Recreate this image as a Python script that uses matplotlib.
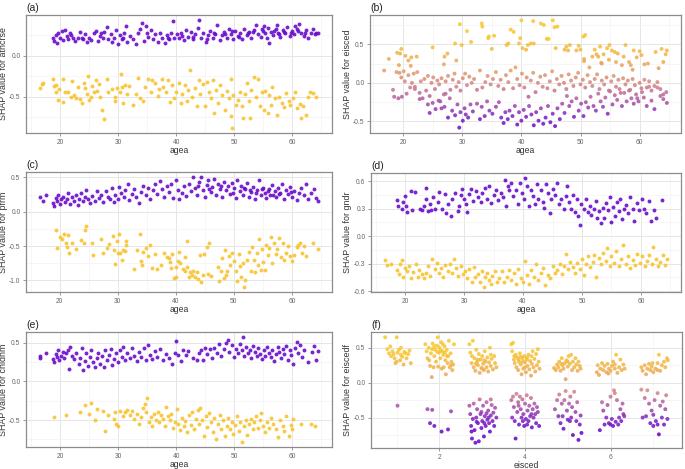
import matplotlib
matplotlib.use("Agg")
import matplotlib.pyplot as plt
import numpy as np
from matplotlib.colors import LinearSegmentedColormap, Normalize
from matplotlib.ticker import FixedLocator, FormatStrFormatter

plt.rcParams['font.family'] = ['Liberation Sans', 'DejaVu Sans']

# ---------------- (a) athcrse ----------------
a_pos_x = [18.7,18.9,19.2,19.4,19.6,19.9,20.3,20.5,20.8,21.1,
21.4,21.7,22.2,22.6,23.0,23.4,23.8,24.2,24.6,25.0,
25.4,25.8,26.2,26.5,26.9,27.3,27.6,28.0,28.3,28.7,
29.0,29.3,29.7,30.0,30.3,30.6,31.0,31.3,31.6,32.0,
32.5,33.0,33.4,33.8,34.2,34.4,34.8,35.2,35.6,36.0,
36.4,36.8,37.2,37.6,38.0,38.4,38.8,39.2,39.5,39.7,
40.1,40.5,40.9,41.3,41.7,42.1,42.5,42.9,43.3,43.7,
44.0,44.3,44.7,45.1,45.5,45.9,46.3,46.7,47.1,47.5,
47.9,48.3,48.7,49.1,49.4,49.8,50.2,50.6,51.0,51.4,
51.8,52.2,52.6,53.0,53.4,53.8,54.2,54.6,55.0,55.4,
55.8,56.1,56.4,56.8,57.2,57.6,58.0,58.4,58.8,59.2,
59.6,60.0,60.4,60.8,61.2,61.6,62.0,62.4,62.8,63.3,
63.7,64.1,64.5,
48.5,49.6,50.9,52.4,53.2,54.9,55.6,56.9,57.8,58.6,
59.9,61.0,62.2,63.9,55.2,57.4,60.6,21.9,24.0,27.0,
30.8,35.0,38.6,41.0,43.0,45.3,46.5]
a_pos_y = [0.22,0.18,0.25,0.15,0.27,0.21,0.30,0.19,0.31,0.24,
0.20,0.27,0.22,0.18,0.21,0.29,0.22,0.26,0.17,0.22,
0.19,0.27,0.30,0.18,0.24,0.21,0.29,0.35,0.20,0.26,
0.17,0.22,0.31,0.14,0.25,0.20,0.28,0.36,0.17,0.24,
0.20,0.14,0.27,0.32,0.40,0.18,0.36,0.23,0.31,0.20,
0.26,0.17,0.27,0.22,0.15,0.25,0.20,0.27,0.42,0.22,
0.26,0.21,0.27,0.19,0.31,0.23,0.29,0.20,0.26,0.34,
0.43,0.21,0.28,0.17,0.25,0.30,0.22,0.26,0.37,0.19,
0.25,0.29,0.22,0.33,0.26,0.20,0.30,0.24,0.28,0.20,
0.33,0.25,0.29,0.22,0.31,0.37,0.26,0.23,0.30,0.27,
0.34,0.15,0.29,0.25,0.33,0.28,0.23,0.31,0.27,0.35,
0.24,0.30,0.26,0.33,0.39,0.28,0.24,0.31,0.21,0.27,
0.33,0.28,0.27,
0.26,0.30,0.23,0.27,0.29,0.33,0.22,0.30,0.26,0.29,
0.27,0.30,0.27,0.26,0.36,0.37,0.36,0.25,0.20,0.27,
0.22,0.28,0.21,0.24,0.23,0.20,0.27]
a_neg_x = [16.5,16.9,17.1,18.7,18.9,19.2,19.3,19.6,19.8,20.4,
20.5,20.8,21.4,21.8,22.1,22.4,22.7,23.1,23.4,23.7,
24.1,24.3,24.6,24.8,25.0,25.3,25.5,25.8,26.2,26.4,
26.7,26.9,27.2,27.5,28.0,28.3,29.0,29.4,29.5,29.8,
30.3,30.5,30.7,30.9,31.1,31.5,31.9,32.5,33.1,33.5,
33.8,34.3,34.6,35.2,35.6,35.9,36.4,36.8,37.1,37.5,
37.8,38.2,38.6,38.9,39.3,39.7,40.0,40.5,40.8,41.1,
41.5,41.8,42.1,42.4,42.8,43.2,43.6,43.9,44.2,44.6,
45.0,45.3,45.6,46.0,46.3,46.6,46.9,47.3,47.6,48.0,
48.4,48.7,49.1,49.4,49.5,49.6,49.9,50.3,50.6,51.0,
51.3,51.6,51.9,52.2,52.5,52.7,53.0,53.4,53.7,54.1,
54.4,54.8,55.1,55.4,55.8,56.0,56.3,56.6,57.0,57.4,
57.8,58.3,58.7,59.0,59.4,59.7,60.1,60.5,60.9,61.3,
61.6,61.9,62.4,62.8,63.1,63.7,64.2]
a_neg_y = [-0.39,-0.35,-0.33,-0.28,-0.37,-0.44,-0.36,-0.54,-0.41,-0.28,
-0.57,-0.45,-0.44,-0.50,-0.31,-0.48,-0.52,-0.38,-0.53,-0.58,
-0.33,-0.40,-0.47,-0.25,-0.54,-0.50,-0.37,-0.45,-0.30,-0.43,
-0.35,-0.50,-0.66,-0.78,-0.29,-0.45,-0.41,-0.51,-0.56,-0.39,
-0.45,-0.22,-0.38,-0.58,-0.36,-0.47,-0.37,-0.60,-0.47,-0.27,
-0.52,-0.56,-0.38,-0.28,-0.45,-0.30,-0.33,-0.49,-0.41,-0.29,
-0.38,-0.45,-0.30,-0.57,-0.36,-0.52,-0.44,-0.33,-0.58,-0.47,
-0.36,-0.55,-0.42,-0.18,-0.50,-0.40,-0.61,-0.30,-0.47,-0.35,
-0.61,-0.32,-0.45,-0.52,-0.30,-0.70,-0.42,-0.58,-0.36,-0.48,
-0.66,-0.43,-0.52,-0.28,-0.74,-0.88,-0.48,-0.60,-0.54,-0.44,
-0.61,-0.76,-0.47,-0.34,-0.55,-0.76,-0.42,-0.26,-0.50,-0.28,
-0.62,-0.45,-0.66,-0.43,-0.70,-0.48,-0.60,-0.38,-0.52,-0.73,
-0.50,-0.58,-0.63,-0.46,-0.55,-0.60,-0.52,-0.45,-0.64,-0.59,
-0.76,-0.62,-0.72,-0.50,-0.44,-0.46,-0.50]

# ---------------- (b) eisced vs agea ----------------
b_top_x = [17.6,19.0,19.3,19.5,19.7,20.4,20.9,21.4,21.3,22.3,
25.0,26.9,27.0,27.5,28.8,29.0,29.6,29.9,30.8,31.5,
33.3,33.4,34.4,34.5,35.0,35.4,37.5,37.8,38.2,38.7,
39.6,39.8,40.0,40.2,40.8,41.1,41.6,42.0,42.1,43.3,
43.8,44.3,44.6,45.3,45.6,45.8,46.1,47.3,47.6,47.9,
48.2,49.3,49.7,50.0,50.5,50.8,50.6,50.6,51.5,52.0,
52.4,52.7,53.0,53.3,53.5,53.6,53.9,54.5,54.8,54.9,
55.3,55.8,56.0,56.3,57.0,57.3,57.6,58.2,58.5,58.8,
59.0,59.5,60.0,60.3,60.8,61.4,62.7,63.2,63.7,64.0,
64.4,64.6]
b_top_y = [0.31,0.39,0.23,0.38,0.44,0.35,0.29,0.33,0.22,0.34,
0.46,0.24,0.34,0.38,0.51,0.29,0.76,0.49,0.67,0.53,
0.77,0.73,0.58,0.60,0.44,0.61,0.49,0.51,0.69,0.66,
0.51,0.58,0.81,0.45,0.43,0.49,0.51,0.80,0.51,0.77,
0.75,0.57,0.57,0.81,0.72,0.45,0.73,0.43,0.47,0.42,
0.49,0.42,0.48,0.43,0.60,0.62,0.31,0.28,0.20,0.34,
0.43,0.37,0.34,0.47,0.26,0.25,0.37,0.45,0.30,0.49,
0.42,0.40,0.27,0.38,0.23,0.34,0.49,0.27,0.23,0.17,
0.42,0.33,0.41,0.36,0.24,0.25,0.40,0.19,0.44,0.27,
0.37,0.42]
b_mid_x = [16.8,18.3,18.5,18.9,19.2,19.4,19.7,19.8,20.1,20.3,
20.6,20.9,21.2,21.5,21.8,22.0,22.4,22.8,23.0,23.3,
23.6,23.9,24.2,24.5,24.8,25.1,25.4,25.8,26.1,26.5,
26.9,27.2,27.6,28.0,28.4,28.7,29.0,29.4,29.7,30.1,
30.5,30.8,31.2,31.6,32.0,32.5,33.0,33.4,33.9,34.3,
34.8,35.2,35.7,36.1,36.5,37.0,37.4,37.8,38.2,38.6,
39.0,39.3,39.7,40.1,40.5,40.9,41.2,41.6,42.0,42.4,
42.8,43.2,43.6,44.0,44.4,44.8,45.2,45.6,46.0,46.4,
46.8,47.2,47.6,48.0,48.4,48.8,49.2,49.6,50.0,50.4,
50.8,51.2,51.6,52.0,52.4,52.8,53.2,53.6,54.0,54.4,
54.8,55.2,55.6,56.0,56.4,56.8,57.2,57.6,58.0,58.4,
58.8,59.2,59.6,60.0,60.4,60.8,61.2,61.6,62.0,62.5,
63.0,63.5,64.0,64.5]
b_mid_y = [0.16,-0.09,-0.18,0.14,-0.20,0.13,0.07,-0.18,0.15,0.02,
-0.14,0.10,-0.06,0.00,0.12,-0.05,0.14,-0.13,0.02,-0.20,
0.05,-0.10,0.09,-0.17,0.00,0.07,-0.08,0.03,-0.02,0.06,
-0.15,0.02,0.09,-0.09,0.04,0.12,-0.05,0.01,-0.10,0.06,
0.12,-0.03,0.08,0.00,0.05,-0.09,0.16,-0.06,0.01,0.09,
-0.02,0.05,0.14,-0.04,0.04,-0.08,0.10,0.01,0.16,-0.07,
0.20,0.05,-0.03,0.12,-0.06,0.07,-0.18,0.03,0.13,-0.12,
0.00,0.08,-0.05,0.10,-0.07,0.02,0.15,-0.10,0.05,-0.02,
0.09,0.00,-0.08,0.11,0.03,-0.04,0.07,0.13,-0.02,0.04,
-0.06,0.10,0.01,-0.04,0.05,0.11,-0.08,0.03,-0.02,0.07,
-0.10,0.02,0.09,-0.05,0.04,-0.13,0.06,-0.02,0.03,-0.09,
0.05,-0.03,-0.20,0.00,-0.12,0.04,-0.06,0.02,-0.10,-0.04,
0.01,-0.08,-0.15,-0.12]
b_low_x = [22.0,22.8,24.2,24.5,25.0,25.5,26.0,26.3,26.5,27.0,
27.2,27.6,27.9,28.3,28.8,29.2,29.5,29.7,30.1,30.4,
30.6,31.0,31.4,31.8,32.5,33.0,33.3,33.8,34.2,34.6,
35.1,35.7,36.2,36.6,37.0,37.3,37.7,38.0,38.5,38.9,
39.3,39.6,40.0,40.4,40.8,41.3,41.7,42.1,42.5,42.9,
43.3,43.7,44.1,44.5,44.9,45.3,45.7,46.1,46.5,46.9,
47.3,47.7,48.1,48.5,48.9,49.3,49.7,50.1,50.5,50.9,
51.3,51.7,52.2,52.6,53.0,53.4,53.8,54.2,54.6,55.0,
55.4,55.8,56.2,56.6,57.0,57.4,57.8,58.2,58.6,59.0,
59.4,59.8,60.3,60.7,61.2,61.6,62.0,62.5,63.0,63.5,
64.0,64.6]
b_low_y = [-0.08,-0.21,-0.28,-0.39,-0.26,-0.34,-0.23,-0.24,-0.33,-0.31,
-0.14,-0.45,-0.20,-0.36,-0.42,-0.28,-0.58,-0.38,-0.49,-0.33,
-0.41,-0.45,-0.28,-0.37,-0.27,-0.47,-0.31,-0.43,-0.24,-0.36,
-0.40,-0.31,-0.25,-0.45,-0.52,-0.38,-0.47,-0.36,-0.43,-0.30,
-0.54,-0.38,-0.49,-0.35,-0.44,-0.30,-0.41,-0.55,-0.38,-0.49,
-0.33,-0.53,-0.45,-0.30,-0.51,-0.40,-0.56,-0.33,-0.47,-0.27,
-0.39,-0.17,-0.30,-0.24,-0.44,-0.20,-0.36,-0.27,-0.43,-0.25,
-0.32,-0.18,-0.30,-0.36,-0.14,-0.24,-0.31,-0.19,-0.40,-0.11,
-0.28,-0.16,-0.22,-0.08,-0.30,-0.13,-0.24,-0.10,-0.20,-0.27,
-0.15,-0.24,-0.07,-0.19,-0.30,-0.05,-0.23,-0.34,-0.06,-0.17,
-0.21,-0.26]

# ---------------- (c) pfrm ----------------
c_pos_x = [16.6,17.1,17.6,18.9,19.1,19.3,19.5,19.8,20.0,20.3,
20.6,20.9,21.2,21.5,21.8,22.1,22.4,22.8,23.1,23.4,
23.7,24.0,24.3,24.6,24.9,25.2,25.6,26.0,26.4,26.8,
27.1,27.5,27.9,28.3,28.6,29.0,29.3,29.6,30.0,30.3,
30.6,31.0,31.3,31.7,32.0,32.4,32.8,33.2,33.6,34.0,
34.4,34.8,35.2,35.6,36.0,36.4,36.8,37.2,37.6,38.0,
38.4,38.8,39.2,39.6,40.0,40.3,40.6,41.0,41.4,41.8,
42.2,42.6,43.0,43.3,43.6,44.0,44.3,44.6,45.0,45.3,
45.6,46.0,46.3,46.6,47.0,47.3,47.6,48.0,48.3,48.6,
49.0,49.3,49.6,50.0,50.3,50.6,51.0,51.3,51.6,52.0,
52.3,52.6,53.0,53.3,53.6,54.0,54.3,54.6,55.0,55.3,
55.6,56.0,56.3,56.6,57.0,57.3,57.6,58.0,58.3,58.6,
59.0,59.3,59.6,60.0,60.4,60.8,61.2,61.6,62.0,62.4,
62.8,63.3,63.8,64.2,64.5,43.8,45.8,47.8,49.8,51.8,
53.8,55.8,57.8,59.8,52.8,54.8,56.8]
c_pos_y = [0.21,0.16,0.25,0.13,0.09,0.20,0.16,0.24,0.11,0.19,
0.22,0.14,0.18,0.27,0.12,0.21,0.16,0.24,0.10,0.19,
0.28,0.15,0.21,0.32,0.18,0.13,0.23,0.16,0.30,0.20,
0.25,0.14,0.30,0.22,0.18,0.34,0.14,0.25,0.19,0.36,
0.28,0.22,0.32,0.41,0.17,0.26,0.33,0.21,0.13,0.29,
0.38,0.24,0.35,0.19,0.31,0.40,0.26,0.45,0.33,0.22,
0.37,0.29,0.41,0.20,0.46,0.31,0.18,0.27,0.37,0.23,
0.40,0.30,0.50,0.35,0.25,0.43,0.50,0.32,0.22,0.39,
0.46,0.29,0.36,0.48,0.25,0.41,0.33,0.22,0.44,0.31,
0.38,0.26,0.42,0.34,0.20,0.47,0.30,0.37,0.25,0.33,
0.42,0.21,0.29,0.36,0.18,0.31,0.46,0.24,0.35,0.28,
0.20,0.33,0.25,0.39,0.30,0.22,0.34,0.27,0.40,0.19,
0.32,0.26,0.36,0.22,0.30,0.17,0.27,0.34,0.24,0.41,
0.19,0.28,0.33,0.20,0.16,0.37,0.33,0.37,0.28,0.35,
0.27,0.30,0.26,0.29,0.31,0.33,0.24]
c_neg_x = [19.4,19.5,20.0,20.4,20.8,21.1,21.3,21.5,21.6,22.2,
22.8,23.6,24.2,24.4,24.6,25.6,25.7,27.2,27.4,28.2,
28.5,29.1,29.4,29.6,29.8,30.0,30.2,30.4,30.7,30.9,
31.2,31.4,31.5,32.8,33.3,33.8,34.0,34.2,34.3,34.8,
35.2,35.5,35.9,36.4,36.7,37.4,37.9,38.4,38.8,39.0,
39.2,39.4,39.7,40.0,40.1,40.3,40.5,40.8,41.2,41.5,
41.6,41.9,42.0,42.3,42.5,42.8,43.0,43.3,43.6,43.8,
44.1,44.4,44.6,44.9,45.3,45.6,45.8,46.0,47.2,47.5,
47.8,48.0,48.3,48.4,48.6,48.9,49.2,49.4,49.7,50.0,
50.3,50.6,50.8,51.0,51.3,51.6,51.8,52.0,52.3,52.6,
52.9,53.2,53.4,53.6,53.9,54.2,54.4,54.6,54.9,55.1,
55.4,55.6,55.9,56.1,56.4,56.6,56.9,57.2,57.5,57.8,
58.1,58.4,58.7,59.0,59.3,59.7,60.0,60.4,60.8,61.1,
61.4,61.7,62.1,62.5,63.6,64.4]
c_neg_y = [-0.26,-0.53,-0.37,-0.40,-0.32,-0.45,-0.51,-0.34,-0.60,-0.45,
-0.55,-0.41,-0.46,-0.27,-0.21,-0.46,-0.63,-0.39,-0.60,-0.53,
-0.47,-0.36,-0.56,-0.76,-0.42,-0.60,-0.32,-0.60,-0.70,-0.56,
-0.57,-0.49,-0.43,-0.83,-0.56,-0.33,-0.72,-0.78,-0.58,-0.53,
-0.65,-0.49,-0.82,-0.61,-0.84,-0.78,-0.60,-0.66,-0.68,-0.73,
-0.82,-0.61,-0.96,-0.95,-0.80,-0.72,-0.59,-0.75,-0.84,-0.87,
-0.66,-0.42,-0.80,-0.95,-0.88,-0.92,-0.87,-0.95,-0.88,-0.98,
-0.63,-1.02,-0.92,-0.61,-0.51,-0.90,-0.45,-0.93,-0.81,-1.01,
-0.86,-0.68,-0.96,-0.56,-0.92,-0.86,-0.64,-0.78,-0.60,-0.72,
-0.87,-1.01,-0.62,-0.79,-0.95,-0.74,-1.09,-0.99,-0.70,-0.58,
-0.86,-0.52,-0.71,-0.88,-0.60,-0.77,-0.40,-0.85,-0.55,-0.73,
-0.85,-0.48,-0.63,-0.53,-0.37,-0.75,-0.45,-0.61,-0.55,-0.38,
-0.66,-0.46,-0.70,-0.60,-0.50,-0.65,-0.72,-0.63,-0.52,-0.48,
-0.45,-0.60,-0.50,-0.65,-0.46,-0.55]

# ---------------- (d) gndr ----------------
d_pos_x = [18.6,18.8,19.4,19.6,20.0,20.2,20.4,21.0,21.2,21.6,
22.5,22.8,23.2,23.5,23.6,23.8,24.2,24.4,24.7,25.0,
25.5,25.8,26.2,26.7,27.0,27.3,27.7,28.0,28.4,28.9,
29.1,29.4,29.7,30.0,30.3,30.5,30.8,31.2,31.5,32.0,
32.4,32.8,33.1,33.5,33.9,34.3,34.6,35.0,35.4,35.8,
36.2,36.6,36.9,37.1,37.4,37.7,38.0,38.3,38.8,39.2,
39.5,39.8,40.1,40.4,40.6,41.0,41.3,41.7,42.0,42.3,
42.6,43.0,43.3,43.6,43.9,44.2,44.5,44.8,45.1,45.5,
45.8,46.1,46.5,46.9,47.2,47.5,47.8,48.1,48.4,48.8,
49.1,49.4,49.6,49.9,50.3,50.6,51.0,51.3,51.6,52.0,
52.3,52.6,52.9,53.2,53.5,53.8,54.1,54.4,54.7,55.0,
55.3,55.6,55.9,56.2,56.5,56.8,57.1,57.5,57.8,58.2,
58.6,58.9,59.3,59.7,60.1,60.5,60.9,61.3,61.7,62.2,
62.6,63.5]
d_pos_y = [0.39,0.33,0.30,0.37,0.44,0.33,0.26,0.49,0.28,0.48,
0.30,0.29,0.33,0.41,0.52,0.27,0.35,0.29,0.43,0.30,
0.37,0.48,0.30,0.46,0.25,0.35,0.22,0.40,0.47,0.27,
0.33,0.45,0.51,0.41,0.35,0.26,0.46,0.51,0.38,0.49,
0.43,0.37,0.47,0.52,0.41,0.55,0.36,0.45,0.50,0.39,
0.47,0.43,0.61,0.33,0.55,0.50,0.58,0.44,0.50,0.35,
0.58,0.47,0.40,0.63,0.55,0.33,0.50,0.44,0.35,0.57,
0.40,0.50,0.37,0.31,0.57,0.47,0.25,0.40,0.51,0.45,
0.58,0.35,0.40,0.30,0.44,0.55,0.37,0.30,0.45,0.26,
0.41,0.22,0.12,0.35,0.30,0.40,0.26,0.33,0.23,0.30,
0.38,0.20,0.27,0.14,0.31,0.20,0.36,0.28,0.43,0.15,
0.32,0.22,0.37,0.27,0.41,0.19,0.30,0.34,0.25,0.43,
0.30,0.17,0.36,0.28,0.41,0.30,0.25,0.38,0.17,0.29,
0.20,0.39]
d_neg_x = [16.6,17.0,17.6,18.6,18.9,19.2,19.4,19.7,20.0,20.3,
20.6,21.0,21.4,21.8,22.1,22.4,22.8,23.2,23.5,23.9,
24.3,24.6,25.0,25.4,25.8,26.1,26.5,26.8,27.2,27.6,
28.0,28.3,28.7,29.0,29.4,29.8,30.2,30.5,30.9,31.3,
31.6,31.9,32.3,32.7,33.0,33.3,33.6,33.9,34.2,34.5,
34.8,35.2,35.6,36.0,36.4,36.8,37.2,37.6,38.0,38.4,
38.8,39.2,39.6,40.0,40.3,40.6,41.0,41.4,41.8,42.2,
42.6,43.0,43.4,43.8,44.2,44.6,45.0,45.4,45.8,46.2,
46.6,47.0,47.3,47.6,48.0,48.4,48.8,49.2,49.6,50.0,
50.3,50.7,51.0,51.4,51.8,52.1,52.4,52.8,53.2,53.6,
54.0,54.3,54.7,55.0,55.4,55.8,56.2,56.6,57.0,57.4,
57.8,58.2,58.6,59.0,59.4,59.8,60.2,60.6,61.0,61.4,
61.8,62.1,62.5,62.9,63.3,63.7,64.1,64.4]
d_neg_y = [-0.26,-0.31,-0.30,-0.37,-0.41,-0.30,-0.26,-0.44,-0.35,-0.38,
-0.32,-0.46,-0.39,-0.30,-0.44,-0.37,-0.41,-0.46,-0.40,-0.33,
-0.43,-0.25,-0.36,-0.29,-0.40,-0.35,-0.44,-0.31,-0.38,-0.30,
-0.40,-0.25,-0.35,-0.43,-0.33,-0.41,-0.38,-0.46,-0.36,-0.50,
-0.34,-0.44,-0.41,-0.50,-0.38,-0.55,-0.45,-0.40,-0.48,-0.52,
-0.43,-0.38,-0.50,-0.46,-0.38,-0.50,-0.44,-0.37,-0.48,-0.40,
-0.52,-0.36,-0.46,-0.50,-0.27,-0.42,-0.52,-0.37,-0.45,-0.30,
-0.48,-0.40,-0.35,-0.53,-0.42,-0.46,-0.33,-0.40,-0.37,-0.30,
-0.41,-0.32,-0.19,-0.36,-0.28,-0.34,-0.40,-0.29,-0.36,-0.25,
-0.42,-0.30,-0.22,-0.34,-0.28,-0.20,-0.44,-0.24,-0.30,-0.18,
-0.27,-0.13,-0.33,-0.22,-0.29,-0.16,-0.32,-0.25,-0.10,-0.30,
-0.22,-0.35,-0.26,-0.31,-0.19,-0.29,-0.22,-0.33,-0.27,-0.20,
-0.30,-0.12,-0.25,-0.33,-0.28,-0.21,-0.31,-0.25]

# ---------------- (e) chldhm ----------------
e_pos_x = [16.5,16.6,17.5,18.7,19.0,19.2,19.4,19.6,19.8,20.1,
20.4,20.7,21.0,21.3,21.5,21.7,22.0,22.4,22.8,23.2,
23.5,23.7,23.9,24.2,24.5,24.8,25.1,25.4,25.7,26.0,
26.3,26.6,26.9,27.2,27.5,27.8,28.1,28.4,28.7,29.0,
29.3,29.6,30.0,30.3,30.6,30.9,31.2,31.6,32.0,32.4,
32.8,33.2,33.6,34.0,34.4,34.8,35.1,35.5,35.9,36.3,
36.7,37.2,37.7,38.2,38.8,39.3,39.8,40.0,40.4,40.8,
41.2,41.7,42.0,43.0,43.6,44.0,44.3,44.6,45.0,45.4,
45.8,46.2,46.6,47.0,47.4,47.8,48.2,48.6,48.9,49.2,
49.6,50.0,50.3,50.6,51.0,51.3,51.5,51.8,52.1,52.4,
52.7,53.0,53.3,53.6,53.9,54.2,54.5,54.8,55.1,55.4,
55.7,56.0,56.3,56.6,56.9,57.2,57.5,57.8,58.1,58.4,
58.7,59.0,59.3,59.6,59.9,60.2,60.5,60.8,61.1,61.4,
61.7,62.0,62.8,63.4,63.8,64.1,64.5]
e_pos_y = [0.30,0.33,0.37,0.29,0.25,0.35,0.31,0.40,0.27,0.33,
0.38,0.30,0.36,0.41,0.16,0.45,0.33,0.29,0.37,0.23,
0.30,0.43,0.15,0.26,0.37,0.20,0.32,0.41,0.25,0.18,
0.30,0.37,0.22,0.33,0.18,0.40,0.27,0.34,0.42,0.21,
0.29,0.36,0.25,0.41,0.32,0.45,0.28,0.37,0.30,0.43,
0.33,0.26,0.38,0.31,0.43,0.27,0.47,0.34,0.29,0.39,
0.31,0.42,0.27,0.35,0.30,0.23,0.37,0.52,0.34,0.26,
0.40,0.34,0.39,0.30,0.28,0.36,0.40,0.27,0.43,0.35,
0.42,0.30,0.43,0.36,0.48,0.33,0.42,0.50,0.54,0.38,
0.47,0.31,0.42,0.36,0.48,0.40,0.57,0.33,0.44,0.37,
0.41,0.30,0.46,0.38,0.33,0.43,0.35,0.29,0.40,0.33,
0.45,0.37,0.31,0.41,0.26,0.35,0.44,0.38,0.30,0.42,
0.35,0.46,0.28,0.40,0.34,0.23,0.43,0.51,0.36,0.47,
0.32,0.41,0.25,0.38,0.46,0.27,0.39]
e_neg_x = [19.0,21.0,23.5,24.2,24.9,25.3,26.0,26.4,27.4,27.7,
28.2,29.2,29.4,29.6,30.0,30.4,30.8,31.2,31.6,32.0,
32.4,32.8,33.2,33.6,34.0,34.3,34.6,34.8,35.0,35.3,
35.6,35.9,36.2,36.5,36.8,37.1,37.4,37.7,38.0,38.3,
38.6,38.9,39.2,39.5,39.8,40.1,40.4,40.7,41.0,41.3,
41.6,41.9,42.2,42.5,42.8,43.1,43.4,43.7,44.0,44.2,
44.5,44.8,45.1,45.4,45.7,46.0,46.3,46.6,46.9,47.2,
47.5,47.8,48.1,48.4,48.7,49.0,49.3,49.6,49.9,50.2,
50.5,50.8,51.1,51.4,51.7,52.0,52.3,52.6,52.9,53.2,
53.5,53.8,54.1,54.4,54.7,55.0,55.3,55.6,56.0,56.4,
56.8,57.2,57.6,58.0,58.4,58.7,59.0,59.4,59.8,60.2,
61.5,63.3,64.0,60.0]
e_neg_y = [-0.46,-0.44,-0.39,-0.30,-0.42,-0.28,-0.50,-0.36,-0.38,-0.64,
-0.43,-0.49,-0.40,-0.55,-0.58,-0.38,-0.45,-0.40,-0.37,-0.43,
-0.38,-0.48,-0.42,-0.55,-0.46,-0.35,-0.29,-0.40,-0.22,-0.52,
-0.46,-0.58,-0.42,-0.50,-0.40,-0.53,-0.44,-0.48,-0.57,-0.33,
-0.45,-0.50,-0.42,-0.60,-0.52,-0.36,-0.55,-0.63,-0.47,-0.58,
-0.51,-0.66,-0.44,-0.56,-0.40,-0.62,-0.48,-0.37,-0.55,-0.35,
-0.50,-0.70,-0.45,-0.59,-0.41,-0.52,-0.66,-0.47,-0.75,-0.55,
-0.44,-0.62,-0.50,-0.70,-0.57,-0.47,-0.62,-0.53,-0.68,-0.56,
-0.45,-0.64,-0.52,-0.78,-0.58,-0.50,-0.69,-0.55,-0.48,-0.62,
-0.53,-0.45,-0.60,-0.50,-0.41,-0.57,-0.66,-0.52,-0.60,-0.47,
-0.55,-0.62,-0.72,-0.50,-0.58,-0.64,-0.45,-0.71,-0.56,-0.48,
-0.55,-0.55,-0.57,-0.61]

# ---------------- (f) eiscedf vs eisced ----------------
f_top_x = [0.73,0.78,0.82,0.87,0.90,0.95,0.97,1.00,1.02,1.05,
1.08,1.10,1.13,1.16,1.20,1.23,1.27,1.30,1.33,0.85,
0.93,1.00,1.18,1.10,
1.67,1.70,1.72,1.75,1.78,1.80,1.82,1.84,1.86,1.88,
1.90,1.92,1.94,1.96,1.97,1.99,2.00,2.02,2.04,2.05,
2.07,2.09,2.10,2.12,2.14,2.15,2.17,2.19,2.20,2.22,
2.24,2.26,2.28,2.30,2.32,2.34,1.88,1.95,2.03,2.08,
2.13,1.76,1.83,2.18,2.27,
2.70,2.72,2.75,2.78,2.80,2.82,2.84,2.86,2.88,2.90,
2.92,2.94,2.96,2.98,3.00,3.02,3.04,3.06,3.08,3.10,
3.12,3.14,3.16,3.18,3.20,3.22,3.25,3.28,3.30,3.33,
2.76,2.90,3.05,3.20,2.85,3.00,
3.68,3.70,3.72,3.74,3.76,3.78,3.80,3.82,3.84,3.86,
3.88,3.90,3.92,3.94,3.96,3.98,4.00,4.02,4.04,4.06,
4.08,4.10,4.12,4.14,4.16,4.18,4.20,4.22,4.24,4.26,
4.28,4.30,4.32,4.34,3.75,3.85,3.95,4.05,4.15,3.90,
4.00,
4.68,4.72,4.75,4.78,4.80,4.83,4.86,4.88,4.90,4.93,
4.95,4.97,5.00,5.02,5.05,5.08,5.10,5.12,5.15,5.18,
5.20,5.23,5.25,5.28,5.30,4.85,5.00,
5.68,5.70,5.73,5.76,5.80,5.83,5.86,5.90,5.93,5.96,
6.00,6.03,6.06,6.10,6.13,6.16,6.20,6.23,6.26,6.30,
6.33,6.10,5.95,
6.72,6.75,6.80,6.83,6.86,6.90,6.93,6.96,7.00,7.05,
7.10,7.13,7.16,7.20,7.25,7.28,7.32,7.34,7.10,6.98]
f_top_y = [0.65,0.48,0.42,0.38,0.45,0.35,0.28,0.65,0.43,0.47,
0.32,0.40,0.37,0.26,0.42,0.35,0.41,0.46,0.28,0.52,
0.41,0.30,0.44,0.50,
0.55,0.45,0.35,0.50,0.24,0.42,0.08,0.56,0.22,0.38,
0.47,0.30,0.53,0.65,0.23,0.43,0.50,0.35,0.58,0.20,
0.45,0.40,0.22,0.52,0.32,0.12,0.47,0.28,0.38,0.60,
0.22,0.42,0.30,0.18,0.26,0.55,0.52,0.44,0.46,0.55,
0.43,0.32,0.48,0.38,0.25,
0.55,0.43,0.28,0.60,0.22,0.35,0.17,0.47,0.30,0.25,
0.41,0.14,0.33,0.21,0.38,0.27,0.18,0.45,0.30,0.22,
0.36,0.16,0.29,0.50,0.24,0.34,0.19,0.38,0.28,0.22,
0.38,0.33,0.32,0.40,0.27,0.20,
0.55,0.45,0.57,0.33,0.28,0.40,0.22,0.36,0.18,0.30,
0.42,0.26,0.12,0.35,0.20,0.38,0.29,0.15,0.33,0.24,
0.40,0.19,0.31,0.10,0.27,0.45,0.22,0.34,0.16,0.41,
0.25,0.48,0.30,0.20,0.38,0.33,0.30,0.36,0.38,0.37,
0.22,
0.21,0.18,0.26,0.22,0.30,0.17,0.35,0.25,0.20,0.28,
0.05,0.32,0.23,0.38,0.27,0.40,0.18,0.30,0.22,0.35,
0.26,0.17,0.30,0.24,0.20,0.27,0.30,
0.15,0.25,0.11,0.20,0.28,0.18,0.24,0.15,0.27,0.20,
0.17,0.24,0.30,0.20,0.40,0.14,0.22,0.33,0.18,0.26,
0.20,0.26,0.13,
0.22,0.17,0.25,0.12,0.20,0.27,0.18,0.23,0.15,0.20,
0.28,0.40,0.17,0.25,0.30,0.22,0.35,0.32,0.18,0.28]
f_bot_x = [1.02,
1.72,1.78,1.83,1.88,2.05,2.20,2.27,
2.70,2.72,2.74,2.76,2.78,2.80,2.82,2.84,2.86,2.88,
2.90,2.92,2.94,2.96,2.98,3.00,3.02,3.04,3.06,3.08,
3.10,3.12,3.14,3.16,3.18,3.20,3.22,3.24,3.26,3.28,
3.30,3.33,2.98,3.05,3.15,2.87,3.10,3.20,2.75,
3.68,3.70,3.72,3.74,3.76,3.78,3.80,3.82,3.84,3.86,
3.88,3.90,3.92,3.94,3.96,3.98,4.00,4.02,4.04,4.06,
4.08,4.10,4.12,4.14,4.16,4.18,4.20,4.22,4.24,4.26,
4.28,4.30,4.33,3.95,4.05,4.15,3.85,
4.70,4.75,4.78,4.80,4.83,4.86,4.90,4.92,4.95,4.98,
5.00,5.03,5.06,5.08,5.10,5.12,5.15,5.18,5.20,5.22,
5.25,5.28,5.30,5.32,4.88,5.05,
5.75,5.80,5.83,5.86,5.90,5.93,5.96,6.00,6.03,6.06,
6.10,6.12,6.15,6.18,6.20,6.23,6.25,6.28,6.30,6.32,
6.00,6.08,
6.72,6.75,6.80,6.83,6.86,6.90,6.93,6.96,7.00,7.03,
7.06,7.10,7.13,7.16,7.20,7.22,7.25,7.28,7.30,7.33,
7.00,7.10]
f_bot_y = [-0.33,
-0.38,-0.58,-0.39,-0.62,-0.70,-0.67,-0.41,
-0.33,-0.45,-0.62,-0.80,-0.52,-0.30,-0.68,-0.86,-0.50,-0.38,
-0.58,-0.84,-0.24,-0.45,-0.65,-0.55,-0.33,-0.77,-0.48,-0.62,
-0.28,-0.53,-0.40,-0.58,-0.70,-0.47,-0.32,-0.55,-0.43,-0.62,
-0.36,-0.50,-0.42,-0.58,-0.50,-0.56,-0.44,-0.24,-0.70,
-0.25,-0.50,-0.20,-0.35,-0.55,-0.80,-0.16,-0.42,-0.28,-0.60,
-0.20,-0.38,-0.50,-0.24,-0.45,-0.62,-0.30,-0.52,-0.18,-0.40,
-0.55,-0.33,-0.48,-0.22,-0.64,-0.38,-0.50,-0.30,-0.45,-0.58,
-0.35,-0.42,-0.62,-0.55,-0.60,-0.45,-0.33,
-0.38,-0.25,-0.48,-0.17,-0.58,-0.30,-0.66,-0.25,-0.12,-0.40,
-0.53,-0.30,-0.20,-0.50,-0.35,-0.75,-0.13,-0.42,-0.55,-0.28,
-0.82,-0.60,-0.47,-0.72,-0.48,-0.55,
-0.68,-0.28,-0.40,-0.60,-0.50,-0.32,-0.58,-0.20,-0.52,-0.62,
-0.15,-0.56,-0.25,-0.60,-0.50,-0.38,-0.55,-0.30,-0.45,-0.48,
-0.60,-0.11,
-0.10,-0.50,-0.22,-0.48,-0.11,-0.30,-0.58,-0.40,-0.62,-0.25,
-0.55,-0.15,-0.74,-0.33,-0.50,-0.27,-0.60,-0.38,-0.18,-0.52,
-0.46,-0.60]

# ---------------- styling ----------------
PURPLE = '#6A0DCB'
YELLOW = '#F8C431'
grad = LinearSegmentedColormap.from_list('shapgrad', [
    (0.00, '#6600C8'), (0.16, '#7A1CC0'), (0.32, '#A550A6'),
    (0.48, '#CF7F88'), (0.64, '#E29B6A'), (0.80, '#F0B148'),
    (1.00, '#F9C62E')])
norm_b = Normalize(vmin=-0.65, vmax=0.6)
norm_f = Normalize(vmin=-0.72, vmax=0.45)

fig = plt.figure(figsize=(6.85, 4.69), dpi=100)
W, H = 685.0, 469.0

def make_ax(l, t, r, b):
    return fig.add_axes([l / W, 1 - b / H, (r - l) / W, (b - t) / H])

def expand(vals, frac=0.05):
    lo, hi = min(vals), max(vals)
    pad = (hi - lo) * frac
    return lo - pad, hi + pad

def style(ax, xticks, yticks, xlabel, ylabel, title, xvals, yvals, ylab_x):
    ax.set_xlim(*expand(xvals))
    ax.set_ylim(*expand(yvals))
    ax.xaxis.set_major_locator(FixedLocator(xticks))
    ax.yaxis.set_major_locator(FixedLocator(yticks))
    dx = xticks[1] - xticks[0]
    dy = yticks[1] - yticks[0]
    xm = np.arange(xticks[0] - 1.5 * dx, xticks[-1] + 2 * dx, dx)
    ym = np.arange(yticks[0] - 1.5 * dy, yticks[-1] + 2 * dy, dy)
    ax.xaxis.set_minor_locator(FixedLocator(xm))
    ax.yaxis.set_minor_locator(FixedLocator(ym))
    ax.yaxis.set_major_formatter(FormatStrFormatter('%.1f'))
    ax.xaxis.set_major_formatter(FormatStrFormatter('%d'))
    ax.grid(which='major', color='#E6E6E6', linewidth=0.7, zorder=0)
    ax.grid(which='minor', color='#F3F3F3', linewidth=0.5, zorder=0)
    ax.set_axisbelow(True)
    for sp in ax.spines.values():
        sp.set_color('#8C8C8C')
        sp.set_linewidth(0.9)
    ax.tick_params(which='major', length=2.5, width=0.6, color='#8C8C8C',
                   labelsize=4.8, labelcolor='#666666', pad=1.5)
    ax.tick_params(which='minor', length=0)
    ax.set_xlabel(xlabel, fontsize=6.2, color='#333333', labelpad=0.5)
    ax.set_ylabel(ylabel, fontsize=6.4, color='#333333')
    ax.yaxis.set_label_coords(ylab_x, 0.5)
    ax.set_title(title, loc='left', fontsize=7.5, color='#222222', pad=3)

S = 8
AL = 0.9
LX_L = (8.5 - 26) / 306.0
LX_R = (352 - 370) / 311.0

# (a)
ax = make_ax(26, 15, 332, 133)
ax.scatter(a_pos_x, a_pos_y, s=S, color=PURPLE, alpha=AL, linewidths=0, zorder=3)
ax.scatter(a_neg_x, a_neg_y, s=S, color=YELLOW, alpha=AL, linewidths=0, zorder=3)
style(ax, [20, 30, 40, 50, 60], [-0.5, 0.0], 'agea', 'SHAP value for athcrse', '(a)',
      a_pos_x + a_neg_x, a_pos_y + a_neg_y, LX_L)

# (b)
ax = make_ax(370, 15, 681, 133)
bx = b_top_x + b_mid_x + b_low_x
by = b_top_y + b_mid_y + b_low_y
ax.scatter(bx, by, s=S, c=by, cmap=grad, norm=norm_b, alpha=0.85, linewidths=0, zorder=3)
style(ax, [20, 30, 40, 50, 60], [-0.5, 0.0, 0.5], 'agea', 'SHAP value for eisced', '(b)',
      bx, by, LX_R)

# (c)
ax = make_ax(26, 172, 332, 292)
ax.scatter(c_pos_x, c_pos_y, s=S, color=PURPLE, alpha=AL, linewidths=0, zorder=3)
ax.scatter(c_neg_x, c_neg_y, s=S, color=YELLOW, alpha=AL, linewidths=0, zorder=3)
style(ax, [20, 30, 40, 50, 60], [-1.0, -0.5, 0.0, 0.5], 'agea', 'SHAP value for pfrm', '(c)',
      c_pos_x + c_neg_x, c_pos_y + c_neg_y, LX_L)

# (d)
ax = make_ax(371, 173, 681, 292)
ax.scatter(d_pos_x, d_pos_y, s=S, color=PURPLE, alpha=AL, linewidths=0, zorder=3)
ax.scatter(d_neg_x, d_neg_y, s=S, color=YELLOW, alpha=AL, linewidths=0, zorder=3)
style(ax, [20, 30, 40, 50, 60], [-0.6, -0.3, 0.0, 0.3, 0.6], 'agea', 'SHAP value for gndr', '(d)',
      d_pos_x + d_neg_x, d_pos_y + d_neg_y, (352 - 371) / 310.0)

# (e)
ax = make_ax(26, 332, 332, 447)
ax.scatter(e_pos_x, e_pos_y, s=S, color=PURPLE, alpha=AL, linewidths=0, zorder=3)
ax.scatter(e_neg_x, e_neg_y, s=S, color=YELLOW, alpha=AL, linewidths=0, zorder=3)
style(ax, [20, 30, 40, 50, 60], [-0.5, 0.0, 0.5], 'agea', 'SHAP value for chldhm', '(e)',
      e_pos_x + e_neg_x, e_pos_y + e_neg_y, LX_L)

# (f)
ax = make_ax(371, 332, 682, 448)
fx = f_top_x + f_bot_x
fy = f_top_y + f_bot_y
ax.scatter(fx, fy, s=S, c=fy, cmap=grad, norm=norm_f, alpha=0.85, linewidths=0, zorder=3)
style(ax, [2, 4, 6], [-0.5, 0.0, 0.5], 'eisced', 'SHAP value for eiscedf', '(f)',
      fx, fy, (352 - 371) / 311.0)

fig.savefig('out.png', dpi=100)
